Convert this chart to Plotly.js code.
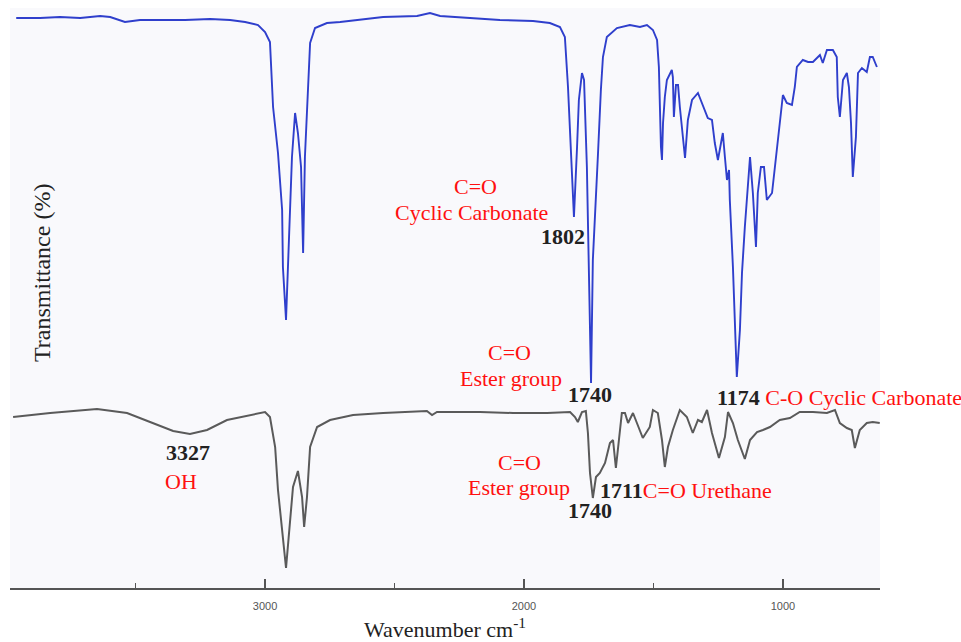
<!DOCTYPE html>
<html>
<head>
<meta charset="utf-8">
<script src="https://cdn.plot.ly/plotly-3.0.1.min.js"></script>
<style>html,body{margin:0;padding:0;background:#fff;}#chart{width:961px;height:642px;}</style>
</head>
<body>
<div id="chart"></div>
<script>
// Top spectrum (cyclic carbonate precursor), wavenumber in cm-1, transmittance in arbitrary offset units
var blueWn = [3961,3869,3792,3714,3637,3598,3541,3483,3405,3309,3212,3135,3077,3027,3000,2981,2969,2950,2934,2931,2919,2911,2903,2896,2884,2873,2861,2857,2853,2846,2834,2826,2807,2761,2710,2633,2544,2413,2363,2324,2220,2162,2093,1965,1900,1861,1842,1830,1819,1811,1807,1795,1788,1776,1768,1757,1749,1741,1734,1722,1714,1703,1695,1680,1641,1591,1552,1525,1502,1486,1479,1471,1467,1463,1456,1448,1429,1425,1421,1413,1405,1398,1386,1378,1367,1351,1328,1313,1301,1290,1274,1263,1251,1232,1224,1216,1208,1205,1193,1181,1178,1166,1158,1147,1139,1127,1116,1104,1097,1085,1073,1062,1042,1031,1023,1012,1000,985,965,954,946,923,903,884,857,846,830,807,792,788,780,768,753,745,737,730,718,710,695,676,664,653,637];
var blueT = [570,570,571,570,572,571,566,568,568,568,569,568,566,563,556,546,481,435,378,321,268,331,388,431,475,455,421,375,335,431,505,545,560,565,566,568,571,572,575,572,570,569,568,567,565,561,551,501,435,388,371,441,488,515,508,421,295,205,328,388,435,498,531,551,560,563,561,563,558,548,521,441,428,465,491,508,518,511,471,503,503,481,451,430,468,488,495,485,478,470,468,445,428,455,431,408,418,388,321,235,211,258,315,361,391,431,395,341,395,421,421,388,395,421,441,471,493,485,483,501,521,528,526,526,533,525,538,538,531,491,471,508,515,501,465,411,451,515,520,516,531,531,521];

// Bottom spectrum (urethane product)
var grayWn = [3973,3830,3649,3533,3444,3355,3290,3224,3147,3069,3000,2981,2961,2950,2931,2919,2903,2892,2873,2857,2849,2838,2826,2799,2749,2660,2544,2375,2355,2336,2170,2042,1911,1822,1803,1792,1776,1761,1753,1745,1734,1722,1707,1687,1668,1656,1645,1637,1622,1610,1598,1579,1560,1541,1514,1502,1483,1467,1456,1444,1425,1398,1371,1348,1328,1313,1293,1274,1247,1224,1212,1193,1174,1147,1127,1100,1077,1050,1012,973,935,884,830,799,780,753,734,722,703,676,653,626];
var grayT = [171,175,179,175,166,157,154,158,168,172,176,171,141,98,48,20,68,101,117,91,61,91,141,161,168,173,175,177,173,176,176,175,175,176,171,166,176,177,155,115,90,111,115,125,145,148,120,141,175,175,165,175,163,150,161,178,175,148,121,141,158,178,171,155,168,166,178,155,130,151,176,165,148,129,148,156,158,161,168,170,176,176,175,178,165,160,158,140,158,165,166,165];

var xTickVals = [3000, 2000, 1000];
var xTickText = ["3000", "2000", "1000"];

var serif = "Liberation Serif, Times New Roman, serif";
var red = "#ff1010";
var dark = "#222222";
var fs = 22;

var traces = [
  {x: blueWn, y: blueT, type: "scatter", mode: "lines", line: {color: "#2f3fcc", width: 1.9}, hoverinfo: "skip"},
  {x: grayWn, y: grayT, type: "scatter", mode: "lines", line: {color: "#5a5a5a", width: 2}, hoverinfo: "skip"}
];

function lab(x, y, text, opts) {
  var a = {x: x, y: y, xref: "x", yref: "y", text: text, showarrow: false,
    font: {family: serif, size: fs, color: red}, xanchor: "center", yanchor: "middle"};
  for (var k in opts) a[k] = opts[k];
  return a;
}
var boldFont = {family: serif, size: fs, color: dark};

var annotations = [
  lab(2189, 402, "C=O"),
  lab(2201, 376, "Cyclic Carbonate"),
  lab(1849, 352, "<b>1802</b>", {font: boldFont}),
  lab(2054, 236, "C=O"),
  lab(2050, 210, "Ester group"),
  lab(1745, 194, "<b>1740</b>", {font: boldFont}),
  lab(1262, 191, "<b>1174</b> <span style='color:" + red + "'>C-O Cyclic Carbonate</span>", {font: boldFont, xanchor: "left"}),
  lab(3297, 136, "<b>3327</b>", {font: boldFont}),
  lab(3324, 107, "OH"),
  lab(2019, 126, "C=O"),
  lab(2019, 101, "Ester group"),
  lab(1716, 98, "<b>1711</b><span style='color:" + red + "'>C=O Urethane</span>", {font: boldFont, xanchor: "left"}),
  lab(1745, 78, "<b>1740</b>", {font: boldFont}),
  {xref: "paper", yref: "paper", x: (42 - 10) / 870, y: (588 - 273) / 580, text: "Transmittance (%)", showarrow: false, textangle: -90,
   font: {family: serif, size: 24, color: dark}, xanchor: "center", yanchor: "middle"}
];

var layout = {
  width: 961, height: 642,
  margin: {l: 10, r: 81, t: 8, b: 54},
  paper_bgcolor: "#ffffff",
  plot_bgcolor: "#f9f9fc",
  showlegend: false,
  xaxis: {
    range: [3985, 625], autorange: false,
    showgrid: false, zeroline: false,
    showline: true, linecolor: "#555555", linewidth: 2,
    ticks: "inside", ticklen: 9, tickwidth: 1.5, tickcolor: "#555555",
    tickvals: xTickVals, ticktext: xTickText,
    minor: {tickvals: [3500, 2500, 1500], ticks: "inside", ticklen: 5, tickwidth: 1.5, tickcolor: "#555555"},
    tickfont: {family: "Liberation Sans Narrow, Arial Narrow, Arial, sans-serif", size: 11, color: "#555555"},
    ticklabelstandoff: 7,
    title: {text: "Wavenumber cm<sup>-1</sup>", font: {family: serif, size: 22, color: dark}, standoff: 12}
  },
  yaxis: {
    range: [0, 580], autorange: false,
    showgrid: false, zeroline: false, showline: false, ticks: "", showticklabels: false
  },
  annotations: annotations
};

Plotly.newPlot("chart", traces, layout, {staticPlot: true, displayModeBar: false});
</script>
</body>
</html>
